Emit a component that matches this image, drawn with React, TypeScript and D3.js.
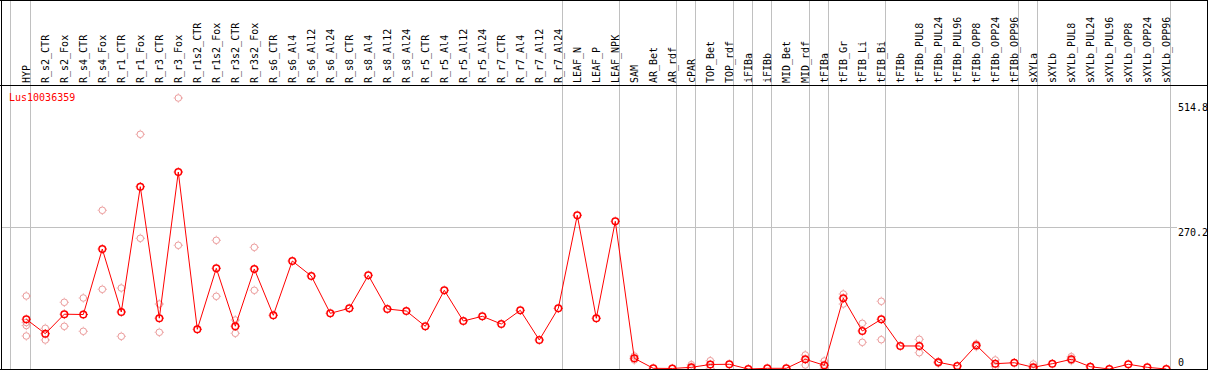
import React, { useEffect, useRef } from "react";
import * as d3 from "d3";

const geneLabel = "Lus10036359";

const categories = [
  "HYP", "R_s2_CTR", "R_s2_Fox", "R_s4_CTR", "R_s4_Fox", "R_r1_CTR", "R_r1_Fox", "R_r3_CTR", "R_r3_Fox",
  "R_r1s2_CTR", "R_r1s2_Fox", "R_r3s2_CTR", "R_r3s2_Fox", "R_s6_CTR", "R_s6_Al4", "R_s6_Al12", "R_s6_Al24",
  "R_s8_CTR", "R_s8_Al4", "R_s8_Al12", "R_s8_Al24", "R_r5_CTR", "R_r5_Al4", "R_r5_Al12", "R_r5_Al24",
  "R_r7_CTR", "R_r7_Al4", "R_r7_Al12", "R_r7_Al24", "LEAF_N", "LEAF_P", "LEAF_NPK", "SAM", "AR_Bet", "AR_rdf",
  "cPAR", "TOP_Bet", "TOP_rdf", "iFIBa", "iFIBb", "MID_Bet", "MID_rdf", "tFIBa", "tFIB_Gr", "tFIB_Li", "tFIB_Bi",
  "tFIBb", "tFIBb_PUL8", "tFIBb_PUL24", "tFIBb_PUL96", "tFIBb_OPP8", "tFIBb_OPP24", "tFIBb_OPP96",
  "sXYLa", "sXYLb", "sXYLb_PUL8", "sXYLb_PUL24", "sXYLb_PUL96", "sXYLb_OPP8", "sXYLb_OPP24", "sXYLb_OPP96",
];

const means = [
  94.8, 67.3, 104.5, 103.9, 228.8, 108.7, 347.6, 96.9, 375.6,
  75.7, 192.0, 81.6, 190.7, 102.4, 205.9, 177.3, 106.2,
  115.7, 178.7, 114.4, 110.6, 81.4, 150.1, 91.5, 100.5,
  85.8, 111.9, 55.3, 115.7, 293.1, 96.7, 281.6, 20.4, 1.3, 1.0,
  3.2, 8.6, 9.0, 0, 1.3, 1.3, 18.5, 7.1, 135.0, 72.5, 94.8,
  43.9, 43.9, 12.8, 5.7, 45.2, 10.1, 12.0,
  3.2, 10.1, 18.5, 4.4, 0, 9.0, 3.2, 0,
];

const replicates: number[][] = [
  [139.2, 88.7, 82.9, 62.9], [77.6, 55.3], [127.2, 81.4], [135.4, 71.9], [302.6, 152.0], [154.4, 62.3],
  [447.5, 249.2], [123.9, 70.0], [516.7, 235.9],
  [], [245.4, 138.6], [93.4, 68.1], [232.0, 150.1], [], [], [], [],
  [], [], [], [], [], [], [], [],
  [], [], [], [], [], [], [], [24.8, 17.2], [], [],
  [8.2, 1.3], [15.8, 1.3], [], [], [], [], [26.7, 7.6], [15.3, 0.6], [143.0, 123.9], [87.1, 50.9], [129.1, 55.9],
  [], [56.6, 31.1], [14.0, 11.0], [], [47.7, 42.5], [17.2, 4.4], [],
  [9.5, 1.3], [], [23.5, 15.8], [], [], [], [], [],
];

// indices of the last category in each group (a separator follows each)
const groupEnds = [0, 28, 31, 34, 35, 37, 38, 39, 41, 42, 45, 52, 53, 60];
const yTicks = [0, 270.2, 514.8];
const gridTicks = [270.2];

const W = 1209;
const H = 370;
const FONT = "'DejaVu Sans Mono', monospace";

export default function App() {
  const ref = useRef<SVGSVGElement>(null);

  useEffect(() => {
    const svg = d3.select(ref.current);
    svg.selectAll("*").remove();

    const left = 1, right = 1207, top = 0, headerBottom = 85, bottom = 369;

    const x = d3.scalePoint<string>().domain(categories).range([26.3, 1166.3]);
    const step = x.step();
    const y = d3.scaleLinear().domain([0, 514.8]).range([369, 99]);

    const defs = svg.append("defs");
    defs.append("clipPath").attr("id", "plotClip")
      .append("rect").attr("x", left + 1).attr("y", headerBottom + 1)
      .attr("width", right - left - 1).attr("height", bottom - headerBottom - 1);
    defs.append("clipPath").attr("id", "frameClip")
      .append("rect").attr("x", 0).attr("y", 0).attr("width", right).attr("height", H);

    svg.append("rect").attr("width", W).attr("height", H).attr("fill", "#fff");

    // vertical separators
    const sepX = [x(categories[0])! - step + 3.4, ...groupEnds.map((i) => x(categories[i])! + 4.4)];
    svg.append("g").selectAll("line").data(sepX).join("line")
      .attr("x1", (d) => Math.floor(d) + 0.5).attr("x2", (d) => Math.floor(d) + 0.5)
      .attr("y1", top).attr("y2", bottom)
      .attr("stroke", "#c0c0c0").attr("stroke-width", 1);

    // horizontal grid
    svg.append("g").selectAll("line").data(gridTicks).join("line")
      .attr("x1", left).attr("x2", 1177)
      .attr("y1", (d) => Math.floor(y(d)) + 0.5).attr("y2", (d) => Math.floor(y(d)) + 0.5)
      .attr("stroke", "#c0c0c0").attr("stroke-width", 1);

    // category labels
    svg.append("g").selectAll("text").data(categories).join("text")
      .attr("transform", (d) => `translate(${x(d)! + 3.5},83) rotate(-90)`)
      .attr("font-family", FONT).attr("font-size", 10).attr("fill", "#000")
      .text((d) => d);

    // y tick labels
    const tickDy = [-3, 8.7, 11.7];
    svg.append("g").attr("clip-path", "url(#frameClip)").selectAll("text").data(yTicks).join("text")
      .attr("x", 1178).attr("y", (d, i) => y(d) + tickDy[i])
      .attr("font-family", FONT).attr("font-size", 10).attr("fill", "#000")
      .text((d) => String(d));

    // gene label
    svg.append("text").attr("x", 9).attr("y", 100.7)
      .attr("font-family", FONT).attr("font-size", 10).attr("fill", "#ff0000")
      .text(geneLabel);

    const plot = svg.append("g").attr("clip-path", "url(#plotClip)");

    const marker = (g: any, cx: number, cy: number, color: string, sw: number) => {
      const r = 3.3;
      g.append("circle").attr("cx", cx).attr("cy", cy).attr("r", r)
        .attr("fill", "none").attr("stroke", color).attr("stroke-width", sw);
      const t = [[0, -1], [0, 1], [-1, 0], [1, 0]];
      t.forEach(([dx, dy]) => {
        g.append("line")
          .attr("x1", cx + dx * (r + 0.4)).attr("y1", cy + dy * (r + 0.4))
          .attr("x2", cx + dx * (r + 1.3)).attr("y2", cy + dy * (r + 1.3))
          .attr("stroke", color).attr("stroke-width", 0.9);
      });
    };

    // replicates
    const repG = plot.append("g");
    categories.forEach((c, i) => {
      replicates[i].forEach((v) => marker(repG, x(c)!, y(v), "#eb9a9a", 1));
    });

    // mean line
    const line = d3.line<number>().x((_, i) => x(categories[i])!).y((d) => y(d));
    plot.append("path").attr("d", line(means)!)
      .attr("fill", "none").attr("stroke", "#ff0000").attr("stroke-width", 1);

    const meanG = plot.append("g");
    means.forEach((v, i) => marker(meanG, x(categories[i])!, y(v), "#ff0000", 1.5));

    // frame
    const frame = svg.append("g").attr("stroke", "#000").attr("stroke-width", 1);
    frame.append("line").attr("x1", 0).attr("x2", right + 1).attr("y1", top + 0.5).attr("y2", top + 0.5);
    frame.append("line").attr("x1", 0).attr("x2", right + 1).attr("y1", headerBottom + 0.5).attr("y2", headerBottom + 0.5);
    frame.append("line").attr("x1", 0).attr("x2", right + 1).attr("y1", bottom + 0.5).attr("y2", bottom + 0.5);
    frame.append("line").attr("x1", left + 0.5).attr("x2", left + 0.5).attr("y1", 0).attr("y2", bottom + 1);
    frame.append("line").attr("x1", right + 0.5).attr("x2", right + 0.5).attr("y1", 0).attr("y2", bottom + 1);
  }, []);

  return (
    <svg
      ref={ref}
      width={W}
      height={H}
      style={{ position: "absolute", left: 0, top: 0, display: "block" }}
    />
  );
}
